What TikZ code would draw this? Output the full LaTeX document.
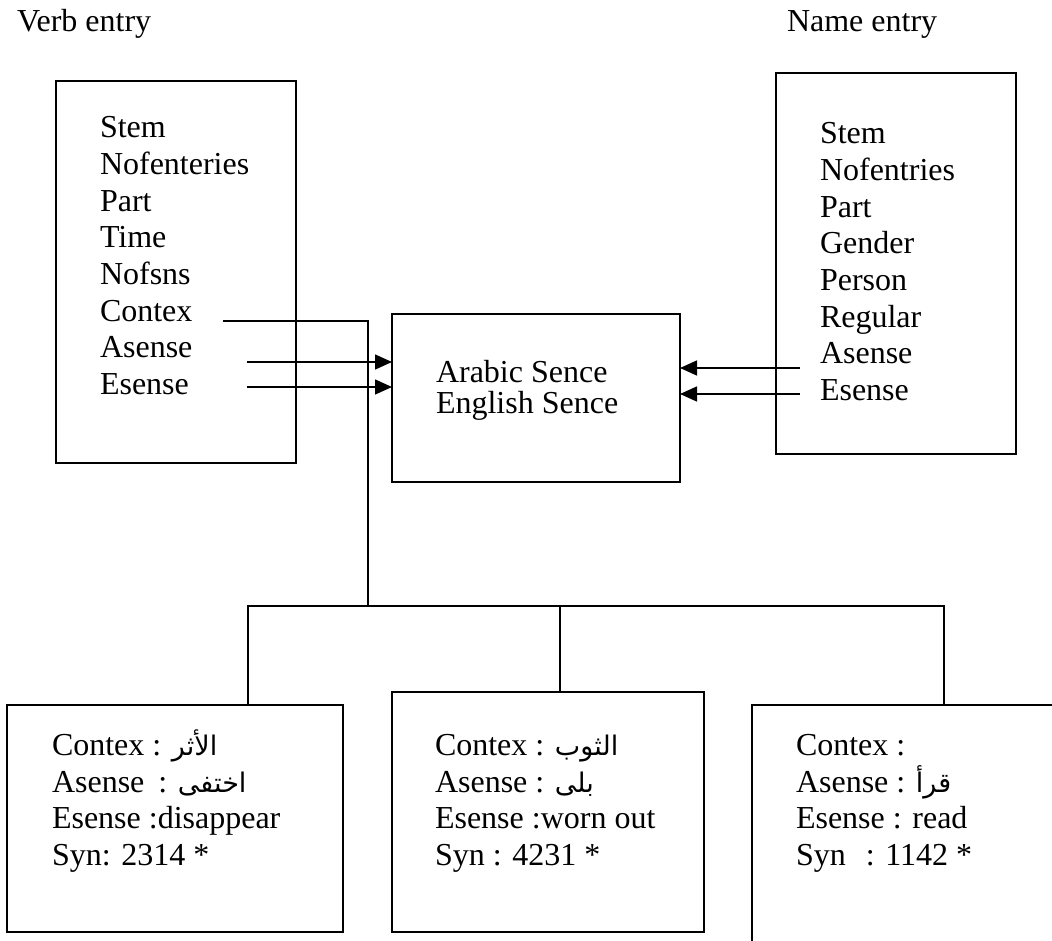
\documentclass[tikz,border=0pt]{standalone}
\usepackage{fontspec}
\setmainfont{Liberation Serif}
\newfontfamily\arabicfont[Script=Arabic]{DejaVu Sans}
\TeXXeTstate=1
\usetikzlibrary{arrows.meta}
\newcommand{\arabtxt}[1]{{\arabicfont\fontsize{27}{27}\selectfont\beginR #1\endR}}
\begin{document}
\begin{tikzpicture}[x=1pt,y=-1pt,
  box/.style={draw, line width=1.8pt, inner sep=0pt, outer sep=0pt, anchor=north west},
  txt/.style={anchor=base west, inner sep=0pt, outer sep=0pt, font=\fontsize{32}{36}\selectfont},
  link/.style={line width=1.8pt},
  arr/.style={line width=1.4pt, -{Triangle[length=17pt,width=15pt]}}]
\useasboundingbox (0,0) rectangle (1052,941);
\clip (0,0) rectangle (1052,941);

% titles
\node[txt] (vt) at (17,32) {Verb entry};
\node[txt] (nt) at (787,32) {Name entry};

% boxes
\node[box, minimum width=240pt, minimum height=382pt] (verb) at (56,81) {};
\node[box, minimum width=240pt, minimum height=381pt] (name) at (776,73) {};
\node[box, minimum width=288pt, minimum height=168pt] (sense) at (392,314) {};
\node[box, minimum width=336pt, minimum height=227pt] (c1) at (7,705) {};
\node[box, minimum width=312pt, minimum height=240pt] (c2) at (392,692) {};
\node[box, minimum width=330pt, minimum height=270pt] (c3) at (752,705) {};

% verb entry fields
\foreach \t [count=\i] in {Stem,Nofenteries,Part,Time,Nofsns,Contex,Asense,Esense}
  \node[txt] (v\i) at (100,{138+36.6*(\i-1)}) {\t};

% name entry fields
\foreach \t [count=\i] in {Stem,Nofentries,Part,Gender,Person,Regular,Asense,Esense}
  \node[txt] (n\i) at (820,{144+36.6*(\i-1)}) {\t};

% sense box
\node[txt] (s1) at (436,382) {Arabic Sence};
\node[txt] (s2) at (436,413) {English Sence};

% bottom box 1
\node[txt] (a1) at (52,755) {Contex : \arabtxt{الأثر}};
\node[txt] (a2) at (52,792) {Asense\hspace{14pt}: \arabtxt{اختفى}};
\node[txt] (a3) at (52,828) {Esense :disappear};
\node[txt] (a4) at (52,865) {Syn: 2314 *};

% bottom box 2
\node[txt] (b1) at (435,755) {Contex : \arabtxt{الثوب}};
\node[txt] (b2) at (435,792) {Asense : \arabtxt{بلى}};
\node[txt] (b3) at (435,828) {Esense :worn out};
\node[txt] (b4) at (435,865) {Syn : 4231 *};

% bottom box 3
\node[txt] (d1) at (796,755) {Contex :};
\node[txt] (d2) at (796,792) {Asense : \arabtxt{قرأ}};
\node[txt] (d3) at (796,828) {Esense : read};
\node[txt] (d4) at (796,865) {Syn\hspace{20pt}: 1142 *};

% arrows into sense box
\coordinate (va) at (247,362);
\coordinate (ve) at (247,387);
\coordinate (na) at (800,368);
\coordinate (ne) at (800,394);
\draw[arr] (va) -- (va -| sense.west);
\draw[arr] (ve) -- (ve -| sense.west);
\draw[arr] (na) -- (na -| sense.east);
\draw[arr] (ne) -- (ne -| sense.east);

% context tree
\coordinate (ctx) at (223,321);
\coordinate (j0) at (368,606);
\coordinate (j1) at (248,606);
\coordinate (j2) at (560,606);
\coordinate (j3) at (944,606);
\draw[link] (ctx) -| (j0);
\draw[link] (j1 |- c1.north) -- (j1) -- (j3) -- (j3 |- c3.north);
\draw[link] (j2) -- (j2 |- c2.north);
\end{tikzpicture}
\end{document}
